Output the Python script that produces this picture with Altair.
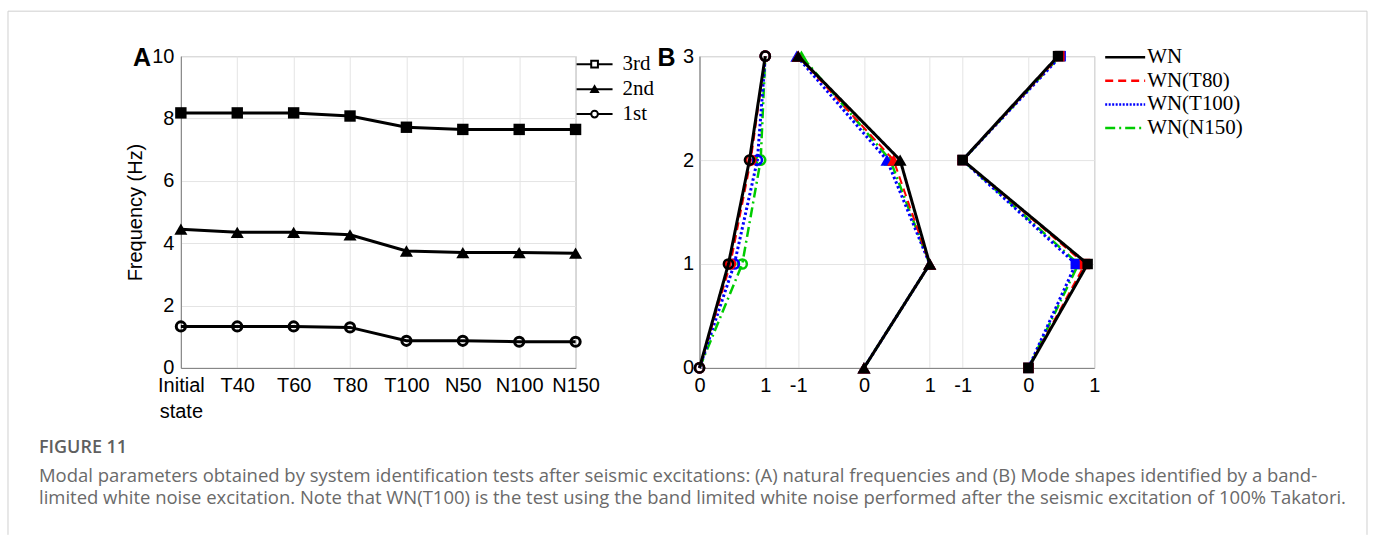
import altair as alt
import pandas as pd

# ---------------- Panel A data: natural frequencies ----------------
conditions = ["Initial state", "T40", "T60", "T80", "T100", "N50", "N100", "N150"]
freq_3rd = [8.18, 8.18, 8.18, 8.08, 7.72, 7.65, 7.65, 7.65]
freq_2nd = [4.45, 4.35, 4.35, 4.27, 3.75, 3.70, 3.70, 3.68]
freq_1st = [1.33, 1.33, 1.33, 1.30, 0.87, 0.87, 0.84, 0.84]
modes_a = ["3rd", "2nd", "1st"]

# ---------------- Panel B data: mode shapes ----------------
floors = [0, 1, 2, 3]
series_b = ["WN", "WN(T80)", "WN(T100)", "WN(N150)"]
mode1_shape = {
    "WN": [0, 0.44, 0.76, 1.0],
    "WN(T80)": [0, 0.47, 0.78, 1.0],
    "WN(T100)": [0, 0.53, 0.88, 1.0],
    "WN(N150)": [0, 0.65, 0.93, 1.0],
}
mode2_shape = {
    "WN": [0, 1.0, 0.55, -1.0],
    "WN(T80)": [0, 1.0, 0.45, -1.0],
    "WN(T100)": [0, 1.0, 0.35, -1.02],
    "WN(N150)": [0, 1.0, 0.40, -0.95],
}
mode3_shape = {
    "WN": [0, 0.90, -1.0, 0.45],
    "WN(T80)": [0, 0.86, -1.0, 0.47],
    "WN(T100)": [0, 0.72, -1.0, 0.49],
    "WN(N150)": [0, 0.76, -1.0, 0.48],
}
x_tick_positions_b = [0, 1, 1.5, 2.5, 3.5, 4, 5, 6]

caption_title = "FIGURE 11"
caption_lines = [
    "Modal parameters obtained by system identification tests after seismic excitations: (A) natural frequencies and (B) Mode shapes identified by a band-",
    "limited white noise excitation. Note that WN(T100) is the test using the band limited white noise performed after the seismic excitation of 100% Takatori.",
]

# ---------------- styles ----------------
SANS = "Liberation Sans"
SERIF = "Liberation Serif"
CAP = "Open Sans"
W, H = 395, 312
series_color = {"WN": "black", "WN(T80)": "#ff0000", "WN(T100)": "#0000ff", "WN(N150)": "#00cc00"}
series_dash = {"WN": [1, 0], "WN(T80)": [8, 5], "WN(T100)": [2.5, 2.5], "WN(N150)": [10, 4, 2, 4]}
series_width = {"WN": 3, "WN(T80)": 2, "WN(T100)": 3, "WN(N150)": 2.5}

# ---------------- Panel A ----------------
dfA = pd.DataFrame({
    "cond": conditions * 3,
    "mode": [m for m in modes_a for _ in conditions],
    "freq": freq_3rd + freq_2nd + freq_1st,
})

xA = alt.X("cond:N", sort=conditions,
           scale=alt.Scale(domain=conditions, padding=0),
           axis=alt.Axis(title=None, labelAngle=0, grid=True,
                         labelExpr="datum.value == 'Initial state' ? ['Initial', 'state'] : datum.value",
                         labelLineHeight=26, labelPadding=8))
yA = alt.Y("freq:Q", scale=alt.Scale(domain=[0, 10], nice=False),
           axis=alt.Axis(values=[0, 2, 4, 6, 8, 10], title="Frequency (Hz)",
                         titleFont=SANS, titleFontSize=20, titleFontWeight="normal",
                         titlePadding=6, labelPadding=7))

baseA = alt.Chart(dfA)
linesA = baseA.mark_line(color="black", strokeWidth=3).encode(x=xA, y=yA, detail="mode:N")
sqA = baseA.transform_filter("datum.mode == '3rd'").mark_point(
    shape="square", filled=True, color="black", size=130, opacity=1).encode(x=xA, y=yA)
triA = baseA.transform_filter("datum.mode == '2nd'").mark_point(
    shape="triangle-up", filled=True, color="black", size=170, opacity=1).encode(x=xA, y=yA)
cirA = baseA.transform_filter("datum.mode == '1st'").mark_point(
    shape="circle", filled=False, color="black", strokeWidth=3, size=85, opacity=1).encode(x=xA, y=yA)
mainA = alt.layer(linesA, sqA, triA, cirA)

legA_df = pd.DataFrame({"mode": modes_a})
yLegA = alt.Y("mode:N", scale=alt.Scale(type="point", domain=modes_a, range=[8, 58], padding=0), axis=None)
legA_rule = alt.Chart(legA_df).mark_rule(color="black", strokeWidth=2).encode(
    x=alt.value(396), x2=alt.value(432), y=yLegA)
legA_pts = alt.Chart(legA_df).mark_point(stroke="black", strokeWidth=2, size=45, opacity=1).encode(
    x=alt.value(414), y=yLegA,
    shape=alt.Shape("mode:N", scale=alt.Scale(domain=modes_a, range=["square", "triangle-up", "circle"]), legend=None),
    fill=alt.Fill("mode:N", scale=alt.Scale(domain=modes_a, range=["white", "black", "white"]), legend=None))
legA_txt = alt.Chart(legA_df).mark_text(font=SERIF, fontSize=21, align="left", baseline="middle", color="black").encode(
    x=alt.value(442), y=yLegA, text="mode:N")

one = pd.DataFrame({"k": [0]})
labelA = alt.Chart(one).mark_text(text="A", font=SANS, fontSize=25, fontWeight="bold",
                                  align="left", baseline="alphabetic", color="black").encode(
    x=alt.value(-48), y=alt.value(10))
capTitle = alt.Chart(one).mark_text(text=caption_title, font=CAP, fontSize=18, fontWeight=600,
                                    align="left", baseline="middle", color="#5f5f5f").encode(
    x=alt.value(-142), y=alt.value(392))
capText = alt.Chart(one).mark_text(text=caption_lines, font=CAP, fontSize=18.5, lineHeight=22,
                                   align="left", baseline="middle", color="#6a6a6a").encode(
    x=alt.value(-142), y=alt.value(420))
frame_top = alt.Chart(one).mark_rule(color="#d0d0d0", strokeWidth=1).encode(
    x=alt.value(-173), x2=alt.value(1187), y=alt.value(-45))
frame_left = alt.Chart(one).mark_rule(color="#d0d0d0", strokeWidth=1).encode(
    x=alt.value(-173), y=alt.value(-45), y2=alt.value(479))
frame_right = alt.Chart(one).mark_rule(color="#d0d0d0", strokeWidth=1).encode(
    x=alt.value(1187), y=alt.value(-45), y2=alt.value(479))

legendA = alt.layer(legA_rule, legA_pts, legA_txt, labelA, capTitle, capText,
                    frame_top, frame_left, frame_right)
panelA = alt.layer(mainA, legendA).resolve_scale(y="independent", shape="independent", fill="independent").properties(width=W, height=H)

# ---------------- Panel B ----------------
rows = []
for m, shape_dict in [(1, mode1_shape), (2, mode2_shape), (3, mode3_shape)]:
    for s in series_b:
        for f, v in zip(floors, shape_dict[s]):
            rows.append({"series": s, "mode": m, "floor": f, "value": v})
dfB = pd.DataFrame(rows)

label_expr_b = ("(datum.value == 0 || datum.value == 2.5 || datum.value == 5) ? '0' : "
                "((datum.value == 1 || datum.value == 3.5 || datum.value == 6) ? '1' : '-1')")
xB = alt.X("xpos:Q", scale=alt.Scale(domain=[0, 6], nice=False, zero=False),
           axis=alt.Axis(values=x_tick_positions_b, labelExpr=label_expr_b, title=None,
                         grid=True, labelPadding=8, labelFlush=False, labelOverlap=False))
yB = alt.Y("floor:Q", scale=alt.Scale(domain=[0, 3], nice=False),
           axis=alt.Axis(values=[0, 1, 2, 3], title=None, labelPadding=6))

baseB = alt.Chart(dfB).transform_calculate(
    xpos="datum.value + (datum.mode == 1 ? 0 : (datum.mode == 2 ? 2.5 : 5))")

layersB = []
for s in ["WN(N150)", "WN(T100)", "WN(T80)", "WN"]:
    c = series_color[s]
    bs = baseB.transform_filter(alt.datum.series == s)
    layersB.append(bs.mark_line(color=c, strokeDash=series_dash[s], strokeWidth=series_width[s]).encode(
        x=xB, y=yB, detail="mode:N", order=alt.Order("floor:Q")))
    layersB.append(bs.transform_filter("datum.mode == 1").mark_point(
        shape="circle", filled=False, color=c, strokeWidth=2.5, size=85, opacity=1).encode(x=xB, y=yB))
    layersB.append(bs.transform_filter("datum.mode == 2").mark_point(
        shape="triangle-up", filled=True, color=c, size=170, opacity=1).encode(x=xB, y=yB))
    layersB.append(bs.transform_filter("datum.mode == 3").mark_point(
        shape="square", filled=True, color=c, size=110, opacity=1).encode(x=xB, y=yB))
mainB = alt.layer(*layersB)

legB_df = pd.DataFrame({"series": series_b})
yLegB = alt.Y("series:N", scale=alt.Scale(type="point", domain=series_b, range=[1, 72], padding=0), axis=None)
legB_rule = alt.Chart(legB_df).mark_rule(strokeWidth=2.5).encode(
    x=alt.value(406), x2=alt.value(446), y=yLegB,
    color=alt.Color("series:N", scale=alt.Scale(domain=series_b, range=[series_color[s] for s in series_b]), legend=None),
    strokeDash=alt.StrokeDash("series:N", scale=alt.Scale(domain=series_b, range=[[1, 0], [8, 5], [2, 1.5], [10, 4, 2, 4]]), legend=None))
legB_txt = alt.Chart(legB_df).mark_text(font=SERIF, fontSize=21, align="left", baseline="middle", color="black").encode(
    x=alt.value(448), y=yLegB, text="series:N")
labelB = alt.Chart(one).mark_text(text="B", font=SANS, fontSize=25, fontWeight="bold",
                                  align="left", baseline="alphabetic", color="black").encode(
    x=alt.value(-42), y=alt.value(10))
legendB = alt.layer(legB_rule, legB_txt, labelB)
panelB = alt.layer(mainB, legendB).resolve_scale(y="independent").properties(width=W, height=H)

chart = alt.hconcat(panelA, panelB, spacing=124, bounds="flush").properties(
    padding={"left": 7, "top": 10, "right": 5, "bottom": 0}
).configure_view(stroke="#9a9a9a", strokeWidth=1).configure_axis(
    labelFont=SANS, labelFontSize=20, labelColor="black",
    gridColor="#e4e4e4", gridWidth=1, domainColor="#808080", domainWidth=1, ticks=False,
    titleColor="black"
)

chart.save("out.html", embed_options={"renderer": "svg", "actions": False})
